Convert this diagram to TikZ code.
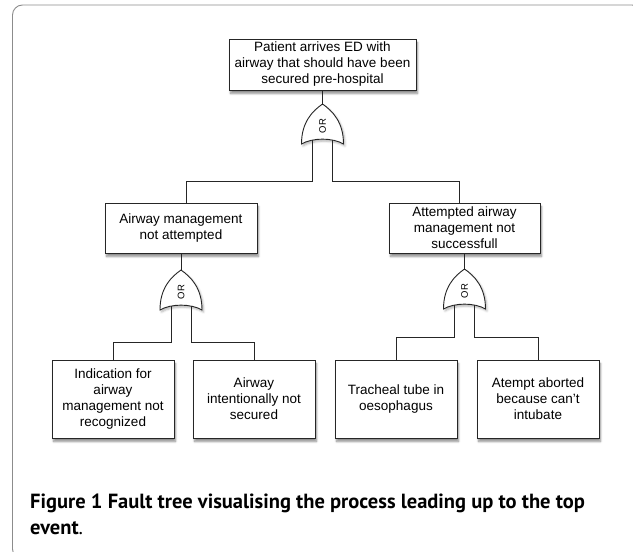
\documentclass[tikz,border=0pt]{standalone}
\usepackage{fontspec}
\setmainfont{Liberation Sans}
\newfontfamily\capfont{PT Sans}
\usetikzlibrary{calc,shadows.blur}
\tikzset{
  event/.style={draw=black!85, line width=1pt, fill=white, align=center,
    font=\fontsize{13.5}{16}\selectfont, inner sep=0pt,
    blur shadow={shadow xshift=1.5pt, shadow yshift=-3.5pt, shadow opacity=45, shadow blur steps=6}},
  gatebody/.style={draw=black!85, line width=0.9pt, fill=white,
    blur shadow={shadow xshift=1.5pt, shadow yshift=-2pt, shadow opacity=30, shadow blur steps=5}},
  gatelabel/.style={rotate=90, font=\fontsize{9.5}{9.5}\selectfont, inner sep=0pt},
  wire/.style={draw=black!85, line width=0.9pt},
  frame/.style={draw=black!45, line width=0.9pt, rounded corners=10pt},
  captext/.style={anchor=base west, inner sep=0pt, font=\capfont\fontsize{20.5}{26}\selectfont}
}
\newcommand\orgate[1]{%
  \path[gatebody] (#1) .. controls ($(#1)+(-10,7)$) and ($(#1)+(-21,18)$) .. ($(#1)+(-21,40)$)
     .. controls ($(#1)+(-10,33.5)$) and ($(#1)+(10,33.5)$) .. ($(#1)+(21,40)$)
     .. controls ($(#1)+(21,18)$) and ($(#1)+(10,7)$) .. cycle;
  \node[gatelabel] (#1t) at ($(#1)+(0,22)$) {OR};
  \coordinate (#1L) at ($(#1)+(-10,36)$);
  \coordinate (#1R) at ($(#1)+(10,36)$);
}
\begin{document}
\begin{tikzpicture}[x=1pt,y=-1pt]
\useasboundingbox (0,0) rectangle (633,552);
\begin{scope}
  \clip (0,0) rectangle (633,552);
  \draw[frame] (12.5,5) rectangle (642,559);
\end{scope}

% events
\node[event, minimum width=187pt, minimum height=51pt] (top) at (322.5,64.5)
  {Patient arrives ED with\\airway that should have been\\secured pre-hospital};
\node[event, minimum width=152pt, minimum height=50pt] (midL) at (181,228)
  {Airway management\\not attempted};
\node[event, minimum width=151pt, minimum height=50pt] (midR) at (464.5,228)
  {Attempted airway\\management not\\successfull};
\node[event, minimum width=122pt, minimum height=78pt] (b1) at (113,399)
  {Indication for\\airway\\management not\\recognized};
\node[event, minimum width=122pt, minimum height=78pt] (b2) at (254,399)
  {Airway\\intentionally not\\secured};
\node[event, minimum width=122pt, minimum height=78pt] (b3) at (396,399)
  {Tracheal tube in\\oesophagus};
\node[event, minimum width=122pt, minimum height=78pt] (b4) at (538,399)
  {Atempt aborted\\because can't\\intubate};

% gates
\coordinate (g0) at (322.5,104);
\coordinate (g1) at (181,270);
\coordinate (g2) at (464.5,269);
\draw[wire] (top.south) -- (g0);
\draw[wire] (midL.south) -- (g1);
\draw[wire] (midR.south) -- (g2);
\orgate{g0}
\orgate{g1}
\orgate{g2}

% wires
\draw[wire] (g0L) |- (186,181) -- ([xshift=5pt]midL.north);
\draw[wire] (g0R) |- (459,181) -- ([xshift=-5.5pt]midR.north);
\draw[wire] (g1L) |- (b1.north |- 0,342) -- (b1.north);
\draw[wire] (g1R) |- (b2.north |- 0,342) -- (b2.north);
\draw[wire] (g2L) |- (b3.north |- 0,337) -- (b3.north);
\draw[wire] (g2R) |- (b4.north |- 0,337) -- (b4.north);

% caption
\node[captext] (cap1) at (30,508)
  {\textbf{Figure 1 Fault tree visualising the process leading up to the top}};
\node[captext] (cap2) at (30,534)
  {\textbf{event}.};
\end{tikzpicture}
\end{document}
